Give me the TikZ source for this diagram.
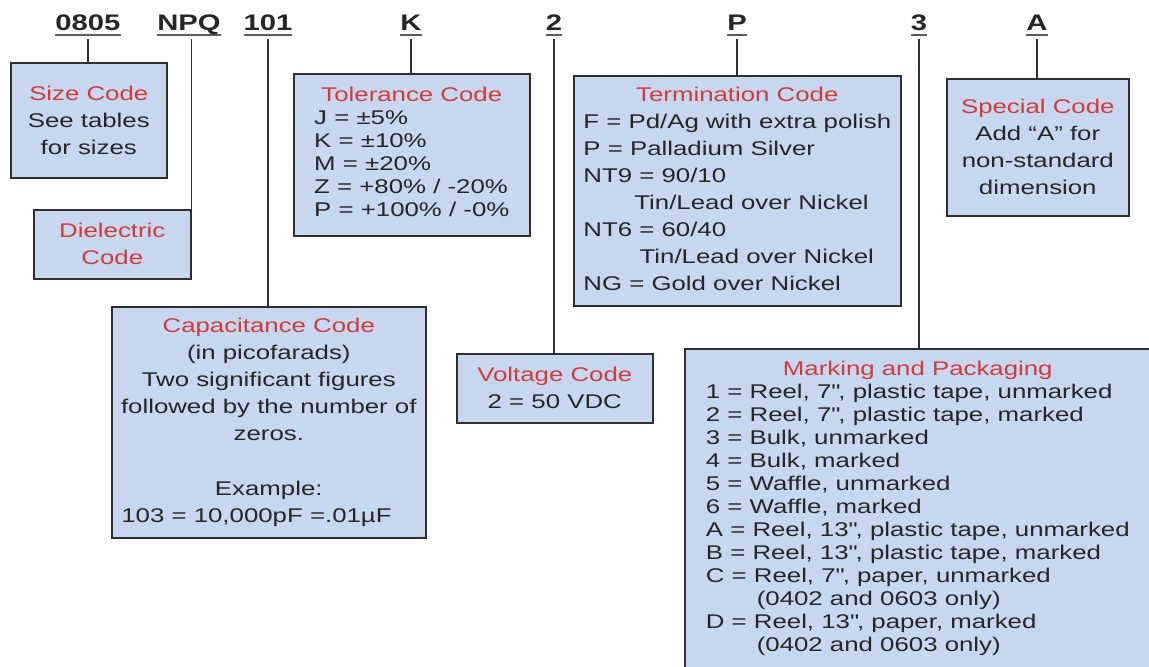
\documentclass[tikz,border=0pt]{standalone}
\usepackage{fontspec}
\setmainfont{Liberation Sans}[FakeStretch=1.3]
\usetikzlibrary{positioning,calc}

\definecolor{boxfill}{HTML}{C6D7EF}
\definecolor{boxline}{HTML}{2F2F2F}
\definecolor{titlered}{HTML}{D23B3B}
\definecolor{txtgray}{HTML}{262626}

\newcommand{\boxtitle}[1]{\textcolor{titlered}{#1}}
\newcommand{\hdrcode}[1]{\setbox0\hbox{#1}\rlap{\color{txtgray!75}\rule[-2.6pt]{\wd0}{1.1pt}}\box0}
\newcommand{\inch}{\textquotedbl}

\begin{document}
\begin{tikzpicture}[x=0.02cm,y=-0.02cm,
    codebox/.style 2 args={rectangle,draw=boxline,fill=boxfill,line width=0.9pt,anchor=north west,
        minimum width=#1*0.02cm,minimum height=#2*0.02cm,inner sep=0pt,align=center,text=txtgray,
        font=\fontsize{11.3}{15.4}\selectfont},
    tight/.style={font=\fontsize{11.3}{13.1}\selectfont},
    hdr/.style={anchor=base,inner sep=2pt,text=txtgray,font=\bfseries\fontsize{12.8}{15}\selectfont},
    link/.style={draw=boxline,line width=0.9pt}
]

\useasboundingbox (0,0) rectangle (1149,666);

% Part number fields
\node[hdr] (hsize) at (88,31) {\hdrcode{0805}};
\node[hdr] (hdiel) at (189,31) {\hdrcode{NPQ}};
\node[hdr] (hcap) at (268,31) {\hdrcode{101}};
\node[hdr] (htol) at (411,31) {\hdrcode{K}};
\node[hdr] (hvolt) at (554,31) {\hdrcode{2}};
\node[hdr] (hterm) at (737,31) {\hdrcode{P}};
\node[hdr] (hmark) at (919,31) {\hdrcode{3}};
\node[hdr] (hspec) at (1037,31) {\hdrcode{A}};

% Code boxes
\node[codebox={156}{115}] (size) at (10,62) {\boxtitle{Size Code}\\See tables\\for sizes};
\node[codebox={157}{69}] (diel) at (33,209) {\boxtitle{Dielectric}\\\boxtitle{Code}};
\node[codebox={314}{231}] (cap) at (111,306) {\boxtitle{Capacitance Code}\\(in picofarads)\\Two significant figures\\followed by the number of\\zeros.\\[15.4pt]Example:\\103 = 10,000pF =.01µF\hspace*{14pt}};
\node[codebox={236}{162},tight] (tol) at (293,73) {%
    \begin{tabular}{@{}l@{}}
    \multicolumn{1}{@{}c@{}}{\boxtitle{Tolerance Code}}\\
    J = ±5\%\\
    K = ±10\%\\
    M = ±20\%\\
    Z = +80\% / -20\%\\
    P = +100\% / -0\%
    \end{tabular}};
\node[codebox={196}{69}] (volt) at (456,353) {\boxtitle{Voltage Code}\\2 = 50 VDC};
\node[codebox={327}{230}] (term) at (573,75) {%
    \begin{tabular}{@{}l@{}}
    \multicolumn{1}{@{}c@{}}{\boxtitle{Termination Code}}\\
    F = Pd/Ag with extra polish\\
    P = Palladium Silver\\
    NT9 = 90/10\\
    \hspace*{29pt}Tin/Lead over Nickel\\
    NT6 = 60/40\\
    \hspace*{32pt}Tin/Lead over Nickel\\
    NG = Gold over Nickel
    \end{tabular}};
\node[codebox={182}{137}] (spec) at (946,78) {\boxtitle{Special Code}\\Add “A” for\\non-standard\\dimension};
\node[codebox={466}{320},tight] (mark) at (684,348) {%
    \begin{tabular}{@{}l@{}}
    \multicolumn{1}{@{}c@{}}{\boxtitle{Marking and Packaging}}\\
    1 = Reel, 7\inch, plastic tape, unmarked\\
    2 = Reel, 7\inch, plastic tape, marked\\
    3 = Bulk, unmarked\\
    4 = Bulk, marked\\
    5 = Waffle, unmarked\\
    6 = Waffle, marked\\
    A = Reel, 13\inch, plastic tape, unmarked\\
    B = Reel, 13\inch, plastic tape, marked\\
    C = Reel, 7\inch, paper, unmarked\\
    \hspace*{29pt}(0402 and 0603 only)\\
    D = Reel, 13\inch, paper, marked\\
    \hspace*{29pt}(0402 and 0603 only)
    \end{tabular}};

% Leader lines
\foreach \h/\b in {hsize/size,hcap/cap,htol/tol,hvolt/volt,hterm/term,hmark/mark,hspec/spec} {
    \draw[link] (\h.south) -- (\h.south |- \b.north);
}
\draw[link] (diel.north east |- hdiel.south) -- (diel.north east);

\end{tikzpicture}
\end{document}
